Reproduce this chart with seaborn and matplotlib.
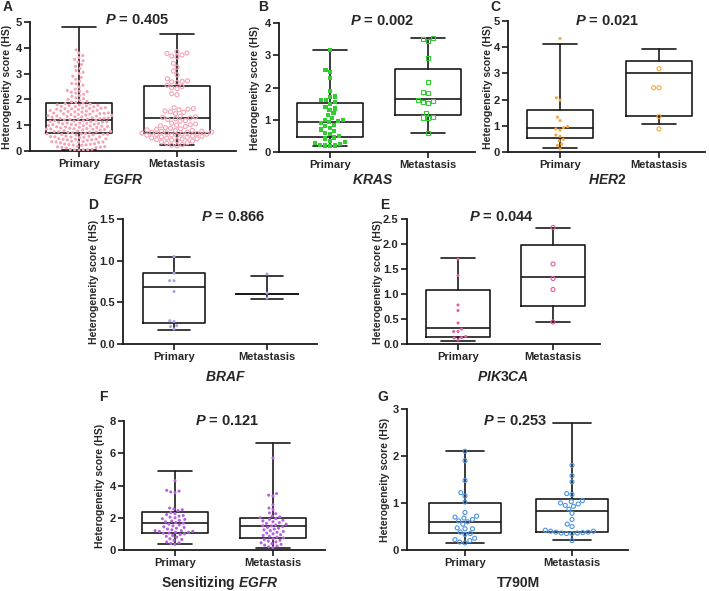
import matplotlib.pyplot as plt
import numpy as np
import seaborn as sns

W, H = 709, 591
groups = ["Primary", "Metastasis"]

# ---- data ----
# box stats per group: (min, q1, median, q3, max)
egfr_box = [[0.03, 0.68, 1.22, 1.85, 4.80], [0.22, 0.70, 1.26, 2.52, 4.55]]
kras_box = [[0.20, 0.48, 0.92, 1.52, 3.17], [0.60, 1.16, 1.63, 2.57, 3.55]]
her2_box = [[0.15, 0.54, 0.93, 1.60, 4.13], [1.08, 1.38, 3.02, 3.48, 3.93]]
braf_box = [[0.17, 0.25, 0.68, 0.85, 1.04], [0.54, 0.60, 0.60, 0.60, 0.82]]
pik3ca_box = [[0.07, 0.15, 0.32, 1.09, 1.72], [0.44, 0.77, 1.34, 1.98, 2.33]]
sens_box = [[0.37, 1.07, 1.70, 2.33, 4.88], [0.15, 0.75, 1.48, 1.98, 6.62]]
t790m_box = [[0.15, 0.36, 0.59, 0.99, 2.11], [0.21, 0.38, 0.82, 1.09, 2.70]]

egfr_pri = [
    0.03, 0.04, 0.05, 0.05, 0.06, 0.07,
    0.12, 0.13, 0.14, 0.15, 0.16, 0.17, 0.18,
    0.22, 0.23, 0.24, 0.25, 0.26, 0.27, 0.28,
    0.32, 0.33, 0.34, 0.35, 0.35, 0.36, 0.37, 0.38,
    0.42, 0.43, 0.44, 0.45, 0.45, 0.46, 0.47, 0.48,
    0.52, 0.53, 0.54, 0.55, 0.55, 0.56, 0.57, 0.58,
    0.62, 0.63, 0.64, 0.65, 0.65, 0.66, 0.67, 0.68,
    0.71, 0.72, 0.73, 0.74, 0.75, 0.75, 0.76, 0.77, 0.78,
    0.81, 0.82, 0.83, 0.84, 0.85, 0.85, 0.86, 0.87, 0.88, 0.89,
    0.91, 0.92, 0.93, 0.94, 0.95, 0.96, 0.97, 0.98, 0.99,
    1.01, 1.02, 1.03, 1.04, 1.05, 1.06, 1.07, 1.08, 1.09,
    1.11, 1.12, 1.13, 1.14, 1.15, 1.16, 1.17, 1.18, 1.19,
    1.21, 1.22, 1.23, 1.24, 1.25, 1.26, 1.27, 1.28, 1.29,
    1.31, 1.32, 1.33, 1.34, 1.35, 1.36, 1.37, 1.38, 1.39,
    1.41, 1.42, 1.43, 1.44, 1.45, 1.46, 1.47, 1.48,
    1.51, 1.52, 1.53, 1.54, 1.55, 1.56, 1.57, 1.58,
    1.61, 1.62, 1.63, 1.64, 1.65, 1.66, 1.67, 1.68,
    1.71, 1.72, 1.73, 1.75, 1.76, 1.77, 1.78, 1.79,
    1.82, 1.84, 1.86, 1.88, 1.90, 1.93,
    1.97, 2.00, 2.03, 2.06,
    2.12, 2.15, 2.20, 2.24, 2.28, 2.30, 2.32, 2.35, 2.40,
    2.48, 2.55, 2.60, 2.62, 2.70, 2.78, 2.85, 2.90,
    3.00, 3.05, 3.12, 3.20, 3.28, 3.35, 3.45, 3.50, 3.55, 3.62, 3.70, 3.80, 3.92,
]
egfr_met = [
    3.85, 3.80, 3.78, 3.72, 3.68, 3.65, 3.40, 3.25, 3.10, 2.95, 2.80,
    2.72, 2.70, 2.68, 2.65, 2.55, 2.50, 2.45, 2.42, 2.22, 2.18,
    1.68, 1.65, 1.62, 1.60, 1.55, 1.52, 1.50, 1.45,
    1.35, 1.32, 1.30, 1.28, 1.25, 1.22, 1.18, 1.15,
    1.08, 1.05, 1.02, 1.00, 0.98, 0.95, 0.90, 0.88, 0.86, 0.84, 0.82,
    0.80, 0.79, 0.77, 0.76, 0.74, 0.73, 0.72, 0.70, 0.69, 0.68, 0.66,
    0.65, 0.64, 0.62, 0.61, 0.60, 0.58, 0.57, 0.55,
    0.53, 0.51, 0.50, 0.48, 0.46, 0.44, 0.42, 0.40,
    0.38, 0.35, 0.32, 0.30, 0.25, 0.22, 0.20,
]
kras_pri = [
    3.15, 2.55, 2.47, 2.30, 1.90, 1.72, 1.70, 1.62, 1.60, 1.55, 1.50,
    1.40, 1.35, 1.30, 1.20, 1.15, 1.05, 1.00, 0.98, 0.95, 0.92, 0.90,
    0.85, 0.80, 0.75, 0.70, 0.65, 0.60, 0.55, 0.50, 0.45, 0.42, 0.35,
    0.30, 0.28, 0.25, 0.22, 0.20, 0.20, 0.18,
]
kras_met = [3.52, 3.50, 3.45, 2.90, 2.17, 1.85, 1.83, 1.60, 1.58, 1.55,
            1.53, 1.20, 1.10, 1.07, 1.05, 0.60]
her2_pri = [4.33, 2.07, 1.98, 1.33, 1.20, 0.97, 0.93, 0.88, 0.83, 0.65,
            0.60, 0.48, 0.43, 0.30, 0.25, 0.12]
her2_met = [3.18, 2.45, 2.45, 1.35, 0.88]
braf_pri = [1.05, 0.85, 0.76, 0.76, 0.63, 0.28, 0.27, 0.22, 0.21, 0.18]
braf_met = [0.84, 0.61, 0.55]
pik3ca_pri = [1.70, 1.37, 0.78, 0.67, 0.42, 0.30, 0.25, 0.25, 0.15, 0.13,
              0.12, 0.08]
pik3ca_met = [2.33, 1.60, 1.31, 1.09, 0.44]
sens_pri = [
    4.30, 3.70, 3.65, 3.60, 3.55, 2.60, 2.55, 2.50, 2.45, 2.32, 2.26,
    2.20, 2.14, 2.10, 2.04, 2.00, 1.94, 1.90, 1.84, 1.80, 1.75, 1.70,
    1.66, 1.60, 1.55, 1.50, 1.44, 1.40, 1.35, 1.30, 1.25, 1.20, 1.20,
    1.16, 1.15, 1.10, 1.10, 1.05, 1.04, 1.00, 0.95, 0.90, 0.85, 0.80,
    0.70, 0.65, 0.60, 0.50, 0.45, 0.40, 0.35,
]
sens_met = [
    5.70, 3.50, 3.40, 3.35, 2.80, 2.60, 2.50, 2.30, 2.25, 2.10, 2.05,
    2.00, 1.95, 1.90, 1.85, 1.80, 1.75, 1.70, 1.65, 1.60, 1.55, 1.50,
    1.50, 1.45, 1.40, 1.35, 1.30, 1.25, 1.20, 1.15, 1.10, 1.05, 1.00,
    0.95, 0.90, 0.85, 0.80, 0.75, 0.70, 0.65, 0.60, 0.55, 0.50, 0.45,
    0.40, 0.35, 0.30, 0.25, 0.20, 0.15,
]
t790m_pri = [2.10, 1.90, 1.48, 1.22, 1.15, 1.02, 0.80, 0.72, 0.70, 0.68,
             0.65, 0.62, 0.60, 0.55, 0.47, 0.45, 0.45, 0.38, 0.35, 0.33,
             0.25, 0.22, 0.20, 0.17, 0.15]
t790m_met = [1.80, 1.58, 1.45, 1.20, 1.18, 1.05, 1.03, 1.00, 0.98, 0.95,
             0.93, 0.87, 0.78, 0.65, 0.55, 0.50, 0.42, 0.40, 0.38, 0.37,
             0.36, 0.35, 0.35, 0.36, 0.38, 0.40, 0.20]

p_values = ["0.405", "0.002", "0.021", "0.866", "0.044", "0.121", "0.253"]
genes = ["$EGFR$", "$KRAS$", "$HER2$", "$BRAF$", "$PIK3CA$",
         "Sensitizing $EGFR$", "T790M"]

# ---- layout (pixel positions in the 709x591 picture) ----
panels = [
    dict(letter="A", pri=egfr_pri, met=egfr_met, box=egfr_box,
         rect=(30, 22, 236, 151), tick_px=(79, 177), yticks=[0, 1, 2, 3, 4, 5],
         color="#f4a3b5", style=("dot", "open_o"), title=(137, 20),
         xlab=(123, 180), ylab_x=7, let=(8, 7)),
    dict(letter="B", pri=kras_pri, met=kras_met, box=kras_box,
         rect=(279, 23, 475, 152), tick_px=(330, 428), yticks=[0, 1, 2, 3, 4],
         color="#33cc33", style=("sq", "open_s"), title=(382, 21),
         xlab=(373, 180), ylab_x=255, let=(263, 7)),
    dict(letter="C", pri=her2_pri, met=her2_met, box=her2_box,
         rect=(508, 21, 705, 152), tick_px=(560, 659), yticks=[0, 1, 2, 3, 4, 5],
         color="#f5a83a", style=("dot", "open_o"), title=(607, 21),
         xlab=(607, 180), ylab_x=488, let=(495, 7)),
    dict(letter="D", pri=braf_pri, met=braf_met, box=braf_box,
         rect=(123, 219, 317, 344), tick_px=(174, 267),
         yticks=[0.0, 0.5, 1.0, 1.5],
         color="#a3a3ea", style=("dot", "dot"), title=(233, 217),
         xlab=(225, 377), ylab_x=94, let=(93, 205)),
    dict(letter="E", pri=pik3ca_pri, met=pik3ca_met, box=pik3ca_box,
         rect=(407, 219, 600, 344), tick_px=(458, 553),
         yticks=[0.0, 0.5, 1.0, 1.5, 2.0, 2.5],
         color="#e35b9f", style=("dot", "open_o"), title=(502, 217),
         xlab=(503, 377), ylab_x=378, let=(385, 205)),
    dict(letter="F", pri=sens_pri, met=sens_met, box=sens_box,
         rect=(124, 421, 325, 550), tick_px=(175, 273), yticks=[0, 2, 4, 6, 8],
         color="#b462e3", style=("dot", "dot"), title=(227, 421),
         xlab=(220, 583), ylab_x=100, let=(103, 397)),
    dict(letter="G", pri=t790m_pri, met=t790m_met, box=t790m_box,
         rect=(407, 409, 628, 550), tick_px=(465, 572), yticks=[0, 1, 2, 3],
         color="#4d94e0", style=("open_o", "open_o"), title=(515, 421),
         xlab=(518, 583), ylab_x=385, let=(383, 397)),
]

sns.set_theme(style="ticks")
plt.rcParams["font.family"] = ["Liberation Sans", "DejaVu Sans"]
plt.rcParams["mathtext.fontset"] = "custom"
plt.rcParams["mathtext.it"] = "Liberation Sans:italic:bold"
plt.rcParams["mathtext.rm"] = "Liberation Sans:bold"
plt.rcParams["mathtext.bf"] = "Liberation Sans:bold"


def fx(px):
    return px / W


def fy(py):
    return 1 - py / H


def draw_points(ax, values, pos, color, style):
    x = [groups[pos]] * len(values)
    n = len(ax.collections)
    if style == "dot":
        # wider invisible edge so the swarm keeps GraphPad-like spacing
        sns.swarmplot(x=x, y=values, order=groups, ax=ax, color=color,
                      size=2.2, linewidth=0.8, zorder=3)
        for c in ax.collections[n:]:
            c.set_edgecolor("none")
    elif style == "sq":
        sns.swarmplot(x=x, y=values, order=groups, ax=ax, color=color,
                      marker="s", size=3.0, linewidth=0.6, zorder=3)
        for c in ax.collections[n:]:
            c.set_edgecolor("none")
    else:
        marker = "s" if style == "open_s" else "o"
        sns.swarmplot(x=x, y=values, order=groups, ax=ax, color=color,
                      marker=marker, size=2.9, linewidth=0.8,
                      edgecolor=color, zorder=3)
        for c in ax.collections[n:]:
            c.set_facecolor("none")
            c.set_edgecolor(color)


fig = plt.figure(figsize=(W / 100, H / 100), dpi=100)
line_kw = dict(color="#1a1a1a", linewidth=1.2)

for i, p in enumerate(panels):
    l, t, r, b = p["rect"]
    ax = fig.add_axes([fx(l), fy(b), fx(r - l), (b - t) / H])
    t0, t1 = p["tick_px"]
    sp = t1 - t0

    stats = []
    for vals in p["box"]:
        stats.append(dict(whislo=vals[0], q1=vals[1], med=vals[2],
                          q3=vals[3], whishi=vals[4], fliers=[]))
    ax.bxp(stats, positions=[0, 1], widths=0.67, capwidths=0.35,
           showfliers=False, manage_ticks=False,
           boxprops=line_kw, whiskerprops=line_kw, capprops=line_kw,
           medianprops=line_kw, zorder=2)

    draw_points(ax, p["pri"], 0, p["color"], p["style"][0])
    draw_points(ax, p["met"], 1, p["color"], p["style"][1])

    ax.set_xlim((l - t0) / sp, (r - t0) / sp)
    ax.set_ylim(0, p["yticks"][-1])
    ax.set_yticks(p["yticks"])
    if isinstance(p["yticks"][1], float):
        ax.set_yticklabels([f"{v:.1f}" for v in p["yticks"]])
    ax.set_xticks([0, 1])
    ax.set_xticklabels(groups)
    sns.despine(ax=ax)
    for s in ["left", "bottom"]:
        ax.spines[s].set_linewidth(1.3)
        ax.spines[s].set_color("#1a1a1a")
    ax.tick_params(axis="both", length=4, width=1.2, color="#1a1a1a",
                   labelsize=8, pad=2)
    for lab in ax.get_xticklabels() + ax.get_yticklabels():
        lab.set_fontweight("bold")

    ax.set_xlabel(genes[i], fontsize=10, fontweight="bold")
    ax.xaxis.set_label_coords(fx(p["xlab"][0]), fy(p["xlab"][1]),
                              transform=fig.transFigure)
    ax.xaxis.label.set_va("center")
    ax.set_ylabel("Heterogeneity score (HS)", fontsize=7.5, fontweight="bold")
    ax.yaxis.set_label_coords(fx(p["ylab_x"]), fy((t + b) / 2),
                              transform=fig.transFigure)
    ax.yaxis.label.set_va("center")
    ax.yaxis.label.set_ha("center")

    ax.text(fx(p["title"][0]), fy(p["title"][1]), f"$P$ = {p_values[i]}",
            transform=fig.transFigure, ha="center", va="center",
            fontsize=10.5, fontweight="bold")
    fig.text(fx(p["let"][0]), fy(p["let"][1]), p["letter"], ha="center",
             va="center", fontsize=10, fontweight="bold")

fig.savefig("out.png", dpi=100)
